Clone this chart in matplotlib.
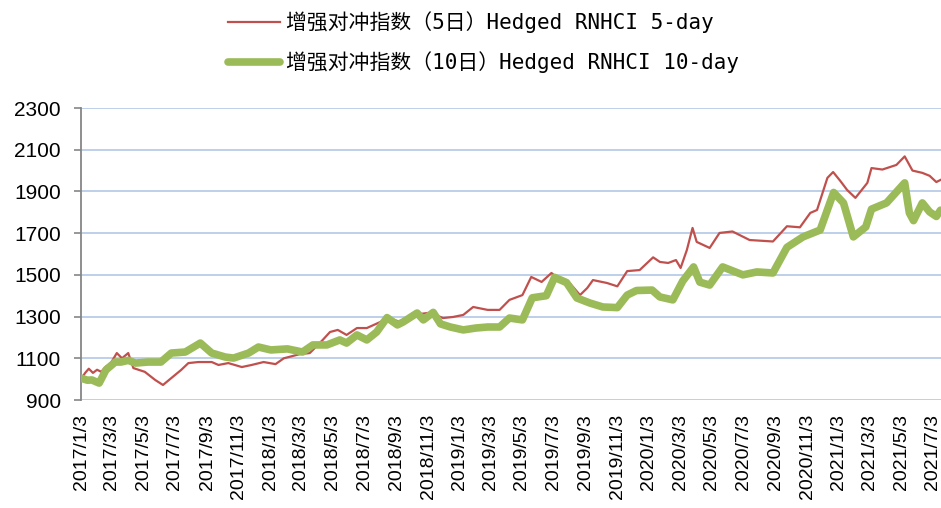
import matplotlib
matplotlib.use("Agg")
import matplotlib.pyplot as plt
import matplotlib.dates as mdates
import pandas as pd

# 增强对冲指数（5日）
RED_DATES = ["2017-01-03", "2017-01-11", "2017-01-18", "2017-01-26", "2017-02-03", "2017-02-11",
             "2017-02-20", "2017-03-01", "2017-03-13", "2017-03-23", "2017-04-04", "2017-04-14",
             "2017-05-06", "2017-05-26", "2017-06-10", "2017-06-26", "2017-07-15", "2017-07-29",
             "2017-08-17", "2017-09-12", "2017-09-25", "2017-10-14", "2017-11-09", "2017-11-28",
             "2017-12-21", "2018-01-13", "2018-01-29", "2018-03-01", "2018-03-20", "2018-04-14",
             "2018-04-28", "2018-05-13", "2018-05-30", "2018-06-19", "2018-07-08", "2018-08-03",
             "2018-08-18", "2018-09-11", "2018-10-05", "2018-11-02", "2018-11-17", "2018-12-02",
             "2018-12-21", "2019-01-10", "2019-01-29", "2019-02-26", "2019-03-21", "2019-04-09",
             "2019-05-04", "2019-05-21", "2019-06-10", "2019-06-29", "2019-07-15", "2019-08-03",
             "2019-08-23", "2019-09-06", "2019-09-17", "2019-10-14", "2019-11-03", "2019-11-22",
             "2019-12-16", "2020-01-11", "2020-01-24", "2020-02-09", "2020-02-24", "2020-03-04",
             "2020-03-16", "2020-03-27", "2020-04-04", "2020-04-29", "2020-05-18", "2020-06-12",
             "2020-07-15", "2020-08-29", "2020-09-25", "2020-10-20", "2020-11-09", "2020-11-22",
             "2020-12-12", "2020-12-23", "2021-01-06", "2021-01-19", "2021-02-04", "2021-02-27",
             "2021-03-07", "2021-03-28", "2021-04-24", "2021-05-10", "2021-05-25", "2021-06-13",
             "2021-06-27", "2021-07-10", "2021-07-18"]
RED_VALUES = [1000, 1030, 1050, 1030, 1045, 1035,
              1060, 1075, 1125, 1100, 1125, 1053,
              1035, 996, 972, 1005, 1044, 1077,
              1082, 1082, 1068, 1077, 1058, 1068,
              1082, 1072, 1100, 1120, 1125, 1188,
              1226, 1236, 1212, 1245, 1245, 1274,
              1293, 1274, 1308, 1317, 1308, 1293,
              1298, 1308, 1346, 1332, 1332, 1380,
              1403, 1490, 1466, 1509, 1475, 1461,
              1403, 1437, 1475, 1461, 1445, 1518,
              1523, 1584, 1562, 1557, 1571, 1533,
              1619, 1725, 1658, 1629, 1701, 1708,
              1667, 1660, 1733, 1728, 1797, 1811,
              1965, 1993, 1950, 1907, 1869, 1941,
              2012, 2005, 2027, 2068, 2000, 1989,
              1975, 1945, 1955]

# 增强对冲指数（10日）
GREEN_DATES = ["2017-01-03", "2017-01-15", "2017-01-24", "2017-02-07", "2017-02-20", "2017-03-10",
               "2017-03-21", "2017-04-04", "2017-04-18", "2017-05-12", "2017-06-06", "2017-06-26",
               "2017-07-23", "2017-08-21", "2017-09-12", "2017-10-08", "2017-10-24", "2017-11-22",
               "2017-12-11", "2018-01-04", "2018-02-05", "2018-03-06", "2018-03-26", "2018-04-22",
               "2018-05-17", "2018-05-30", "2018-06-19", "2018-07-08", "2018-07-27", "2018-08-16",
               "2018-09-05", "2018-09-16", "2018-10-13", "2018-10-25", "2018-11-13", "2018-11-27",
               "2018-12-16", "2019-01-10", "2019-02-03", "2019-02-26", "2019-03-21", "2019-04-09",
               "2019-05-04", "2019-05-23", "2019-06-19", "2019-07-05", "2019-07-28", "2019-08-17",
               "2019-09-11", "2019-10-06", "2019-11-03", "2019-11-22", "2019-12-10", "2020-01-09",
               "2020-01-24", "2020-02-18", "2020-03-08", "2020-03-29", "2020-04-10", "2020-04-29",
               "2020-05-24", "2020-07-02", "2020-07-29", "2020-08-29", "2020-09-25", "2020-10-26",
               "2020-11-28", "2020-12-24", "2021-01-12", "2021-01-31", "2021-02-24", "2021-03-07",
               "2021-04-05", "2021-05-03", "2021-05-10", "2021-05-19", "2021-05-27", "2021-06-13",
               "2021-06-27", "2021-07-10", "2021-07-18"]
GREEN_VALUES = [1005, 995, 996, 981, 1044, 1082,
                1082, 1090, 1077, 1082, 1082, 1125,
                1130, 1173, 1125, 1106, 1101, 1125,
                1154, 1140, 1145, 1130, 1164, 1164,
                1188, 1173, 1212, 1188, 1226, 1295,
                1260, 1274, 1317, 1284, 1320, 1265,
                1250, 1236, 1245, 1250, 1250, 1293,
                1284, 1390, 1400, 1488, 1463, 1389,
                1365, 1346, 1343, 1403, 1425, 1427,
                1394, 1380, 1470, 1538, 1465, 1451,
                1538, 1500, 1514, 1509, 1632, 1682,
                1715, 1895, 1845, 1682, 1730, 1815,
                1845, 1922, 1941, 1797, 1760, 1845,
                1802, 1780, 1810]

LABELS = ["增强对冲指数（5日）Hedged RNHCI 5-day", "增强对冲指数（10日）Hedged RNHCI 10-day"]
COLORS = ["#C0504D", "#9BBB59"]
Y_TICKS = [900, 1100, 1300, 1500, 1700, 1900, 2100, 2300]
# every other month, on the 3rd: 2017/1/3 ... 2021/7/3
X_TICKS = pd.date_range("2017-01-01", "2021-07-01", freq="2MS") + pd.Timedelta(days=2)

fig = plt.figure(figsize=(9.41, 5.08), dpi=100)
ax = fig.add_axes([80.5 / 941, 1 - 400 / 508, 1 - 80.5 / 941, 292 / 508])

ax.plot(pd.to_datetime(RED_DATES), RED_VALUES, color=COLORS[0], lw=1.6, label=LABELS[0], zorder=3)
ax.plot(pd.to_datetime(GREEN_DATES), GREEN_VALUES, color=COLORS[1], lw=5.5, label=LABELS[1],
        zorder=4, solid_capstyle="round", solid_joinstyle="round")

ax.set_ylim(900, 2300)
ax.set_yticks(Y_TICKS)
ax.set_xlim(pd.Timestamp("2017-01-02"), pd.Timestamp("2021-07-19"))
ax.set_xticks(X_TICKS)
ax.xaxis.set_major_formatter(mdates.DateFormatter("%Y/%-m/%-d"))

ax.grid(axis="y", color="#B9CBE8", lw=1.3)
ax.set_axisbelow(True)
for s in ("top", "right", "bottom"):
    ax.spines[s].set_visible(False)
ax.spines["left"].set_color("#868686")
ax.spines["left"].set_linewidth(1.3)

ax.tick_params(axis="y", length=5, width=1.2, color="#868686", pad=9)
ax.tick_params(axis="x", length=0, pad=10)
for t in ax.get_yticklabels():
    t.set_fontfamily("Liberation Sans")
    t.set_fontsize(15)
for t in ax.get_xticklabels():
    t.set_fontfamily("Liberation Sans")
    t.set_fontsize(14)
    t.set_rotation(90)

leg = fig.legend(loc="upper left", bbox_to_anchor=(228 / 941, 1 - 11 / 508), frameon=False,
                 borderpad=0, borderaxespad=0, handlelength=2.5, handletextpad=0.3,
                 labelspacing=0.9, prop={"family": ["DejaVu Sans Mono", "Noto Sans CJK SC"], "size": 15})

fig.savefig("out.png", dpi=100)
